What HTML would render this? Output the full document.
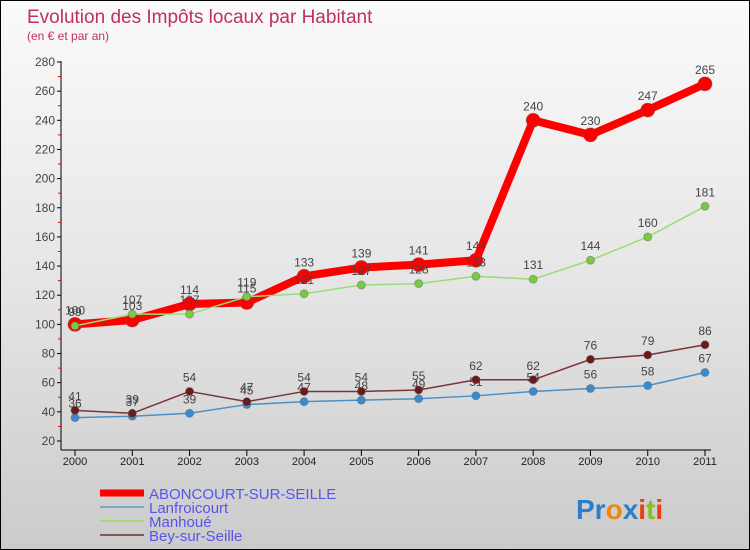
<!DOCTYPE html>
<html><head><meta charset="utf-8"><style>
body{margin:0}
#c{width:750px;height:550px;position:relative;box-sizing:border-box;border:1px solid #000;background:linear-gradient(#fafafa,#e6e6e6 50%,#cbcbcb);font-family:"Liberation Sans",sans-serif;overflow:hidden}
</style></head><body>
<div id="c">
<svg id="s" width="748" height="548" style="position:absolute;left:0;top:0">
<text x="26" y="22" font-size="19" fill="#c0305a">Evolution des Impôts locaux par Habitant</text>
<text x="26" y="39" font-size="12" fill="#c0305a">(en € et par an)</text>
<g id="g"></g>
<text x="575" y="518" font-size="28" font-weight="bold"><tspan fill="#2a7fc8">Pr</tspan><tspan fill="#e88a10">o</tspan><tspan fill="#2a7fc8">x</tspan><tspan fill="#e84010">i</tspan><tspan fill="#88c020">t</tspan><tspan fill="#e84010">i</tspan></text>
</svg>
</div>
<script>
const years=["2000","2001","2002","2003","2004","2005","2006","2007","2008","2009","2010","2011"];
const yTicks=[20,40,60,80,100,120,140,160,180,200,220,240,260,280];
const abon=[100,103,114,115,133,139,141,144,240,230,247,265];
const lanf=[36,37,39,45,47,48,49,51,54,56,58,67];
const manh=[99,107,107,119,121,127,128,133,131,144,160,181];
const bey=[41,39,54,47,54,54,55,62,62,76,79,86];
const NS="http://www.w3.org/2000/svg",g=document.getElementById('g');
const X=i=>74+i*(630/11), Y=v=>440-(v-20)*(379/260);
function el(t,a,p){const e=document.createElementNS(NS,t);for(const k in a)e.setAttribute(k,a[k]);(p||g).appendChild(e);return e;}
let ax=el('line',{x1:60,y1:60,x2:60,y2:449,stroke:'#000'});

let bx=el('line',{x1:60,y1:449,x2:710,y2:449,stroke:'#000'});

yTicks.forEach(v=>{el('line',{x1:56,x2:60,y1:Y(v),y2:Y(v),stroke:'#000'});
 if(v<280)el('line',{x1:57,x2:60,y1:Y(v+10),y2:Y(v+10),stroke:'#e00'});
 let t=el('text',{x:54,y:Y(v)+4,'font-size':12,fill:'#444','text-anchor':'end'});t.textContent=v;
 });
years.forEach((y,i)=>{el('line',{x1:X(i),x2:X(i),y1:449,y2:455,stroke:'#000'});
 let t=el('text',{x:X(i),y:464,'font-size':11,fill:'#222','text-anchor':'middle'});t.textContent=y;
 });
function series(d,col,w,r,dot,name){
 let p=el('polyline',{points:d.map((v,i)=>X(i)+','+Y(v)).join(' '),fill:'none',stroke:col,'stroke-width':w,'stroke-linejoin':'round'});
 
 d.forEach((v,i)=>{let c=el('circle',{cx:X(i),cy:Y(v),r:r,fill:dot,stroke:'#555','stroke-opacity':0.4});
  
  let t=el('text',{x:X(i),y:Y(v)-10,'font-size':12,fill:'#444','text-anchor':'middle'});t.textContent=v;
  });
}
series(lanf,'#4a90c8',1.5,4,'#3a8ad0','lanfroicourt');
series(bey,'#7a3535',1.5,4,'#6a1a1a','bey-sur-seille');
series(abon,'#f00',8,7,'#f00','aboncourt');
series(manh,'#99dd77',1.5,4,'#77cc44','manhoue');
const leg=[['ABONCOURT-SUR-SEILLE','#f00',7],['Lanfroicourt','#7aaad0',2],['Manhoué','#99dd77',2],['Bey-sur-Seille','#8a5555',2]];
leg.forEach((l,i)=>{let y=492+i*14;
 let ln=el('line',{x1:99,x2:143,y1:y,y2:y,stroke:l[1],'stroke-width':l[2]});
 
 let t=el('text',{x:148,y:y+6,'font-size':15,fill:'#5555ee'});t.textContent=l[0];
 });
</script>
</body></html>
